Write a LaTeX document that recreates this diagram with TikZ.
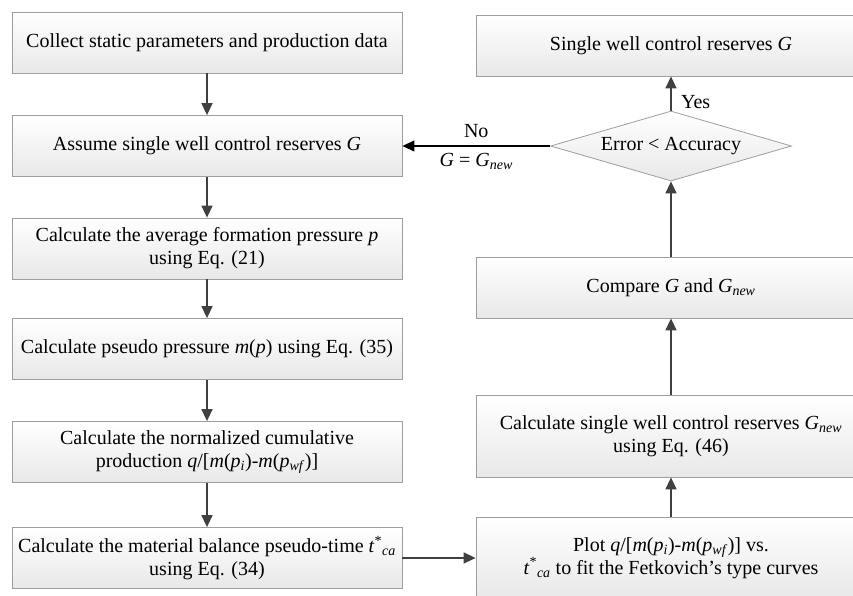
\documentclass[tikz,border=0pt]{standalone}
\usepackage{fontspec}
\setmainfont{Liberation Serif}
\usepackage{tikz}
\usetikzlibrary{arrows.meta}
\usetikzlibrary{shapes.geometric}
\newcommand*\Gnew{\textit{G}\textsubscript{\textit{new}}}
\newcommand*\tca{\textit{t}\textsuperscript{*}\textsubscript{\textit{ca}}}
\newcommand*\qnorm{\textit{q}/[\textit{m}(\textit{p}\textsubscript{\textit{i}})-\textit{m}(\textit{p}\textsubscript{\textit{wf}})]}

\begin{document}
\begin{tikzpicture}[x=1pt,y=-1pt,>={Triangle[length=12pt,width=11pt]},
	font=\fontsize{20}{23}\selectfont,
	stepbox/.style={draw=black!38,line width=.8pt,top color=white,bottom color=black!9,minimum width=390pt,minimum height=61pt,align=center,inner sep=0pt},
	check/.style={diamond,draw=black!38,line width=.8pt,top color=white,bottom color=black!9,minimum width=241pt,minimum height=70pt,aspect=3.4,inner sep=0pt},
	flow/.style={->,draw=black!75,line width=1.5pt}]
			\useasboundingbox(0,0)rectangle(853,595);
			\clip(0,0)rectangle(853,595);
			\node[stepbox](collect)at(207,42.5){Collect static parameters and production data};
			\node[stepbox](assume)at(207,146){Assume single well control reserves \textit{G}};
			\node[stepbox](avgp)at(207,248.5){Calculate the average formation pressure \textit{p}\\using Eq. (21)};
			\node[stepbox](pseudo)at(207,349){Calculate pseudo pressure \textit{m}(\textit{p}) using Eq. (35)};
			\node[stepbox](norm)at(207,452){Calculate the normalized cumulative\\production \qnorm};
			\node[stepbox](mbt)at(207,558){Calculate the material balance pseudo-time \tca\\using Eq. (34)};
			\node[stepbox,minimum height=82pt](plot)at(671,558){Plot \qnorm{} vs.\\\tca{} to fit the Fetkovich's type curves};
			\node[stepbox,minimum height=82pt](calcg)at(671,436){Calculate single well control reserves \Gnew\\using Eq. (46)};
			\node[stepbox](compare)at(671,287.5){Compare \textit{G} and \Gnew};
			\node[check](err)at(671,146){Error < Accuracy};
			\node[stepbox](result)at(671,45.5){Single well control reserves \textit{G}};
			\draw[flow](collect)--(assume);
			\draw[flow](assume)--(avgp);
			\draw[flow](avgp)--(pseudo);
			\draw[flow](pseudo)--(norm);
			\draw[flow](norm)--(mbt);
			\draw[flow](mbt)--(plot);
			\draw[flow](plot)--(calcg);
			\draw[flow](calcg)--(compare);
			\draw[flow](compare)--(err);
			\draw[flow](err)--node[pos=.25,right=6pt,black]{Yes}(result);
			\draw[->,black,line width=1.2pt](err)--node[above=4pt]{No}node[below=3pt]{\textit{G} = \Gnew}(assume);
		\end{tikzpicture}
\end{document}
